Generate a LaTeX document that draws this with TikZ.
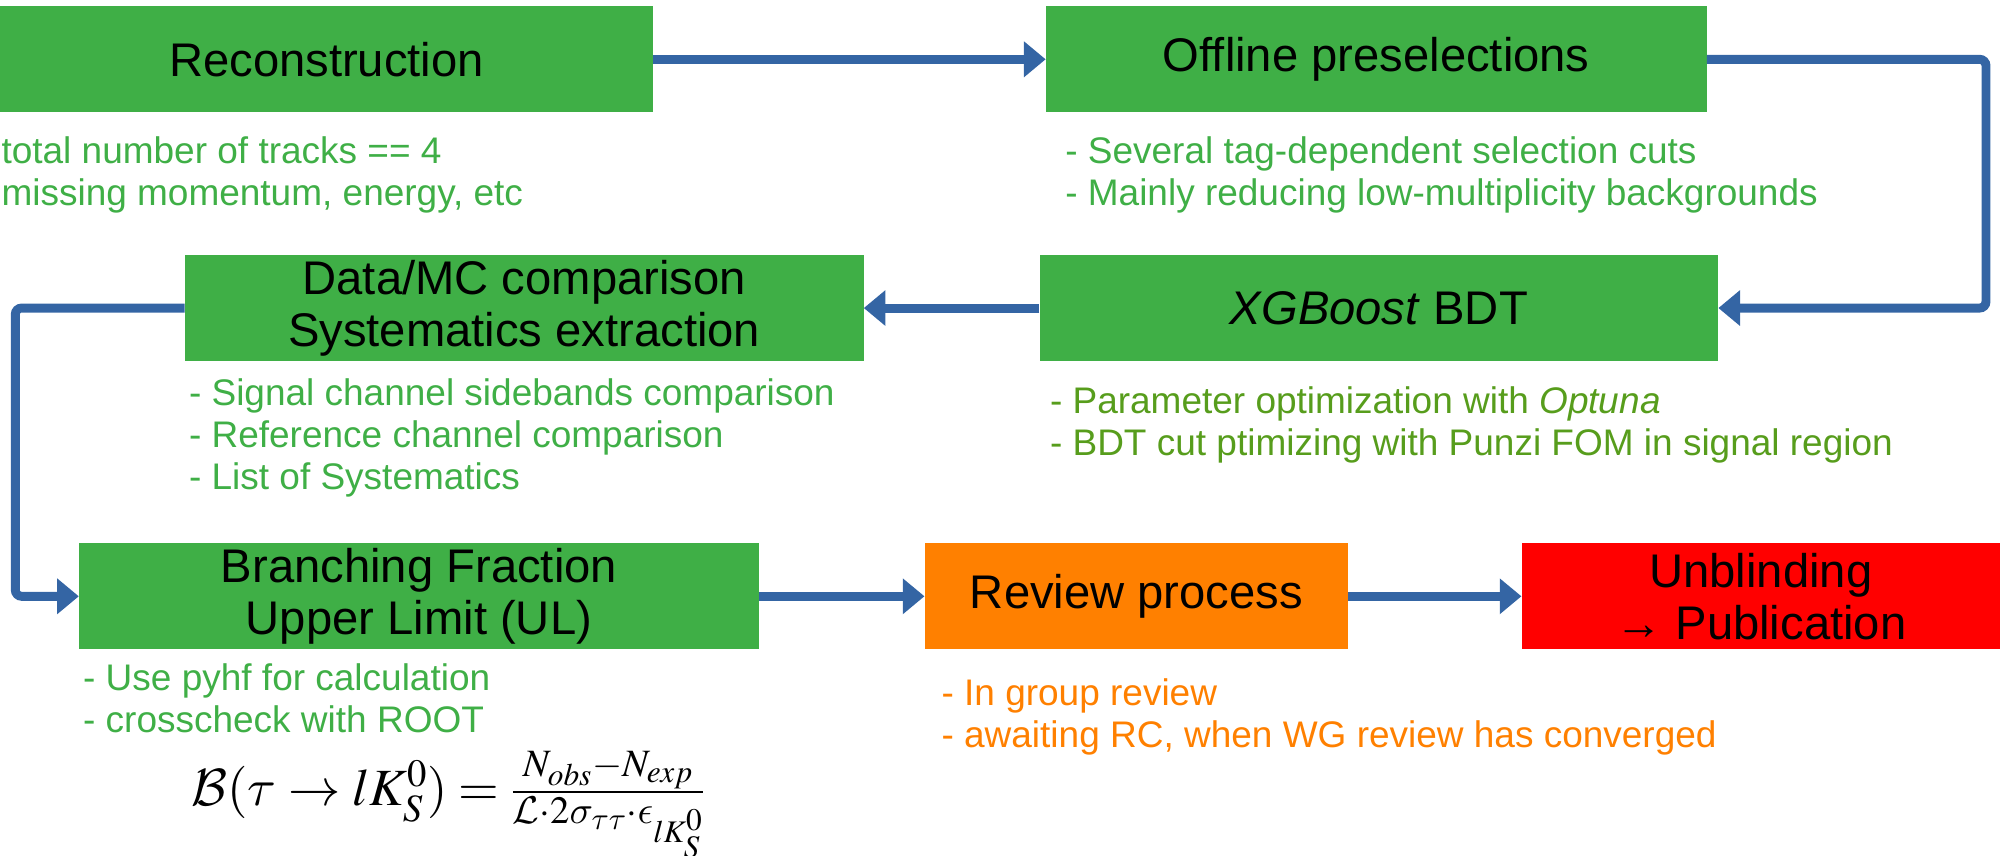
\documentclass[tikz,border=0pt]{standalone}
\usepackage{mathptmx}
\DeclareFontFamily{OMS}{mycmsy}{\skewchar\font'60}
\DeclareFontShape{OMS}{mycmsy}{m}{n}{<->cmsy10}{}
\DeclareFontFamily{OML}{mycmm}{\skewchar\font'177}
\DeclareFontShape{OML}{mycmm}{m}{it}{<->cmmi10}{}
\DeclareMathAlphabet{\mathcal}{OMS}{mycmsy}{m}{n}
\DeclareSymbolFont{cmletters}{OML}{mycmm}{m}{it}
\DeclareMathSymbol{\tau}{\mathord}{cmletters}{"1C}
\DeclareMathSymbol{\sigma}{\mathord}{cmletters}{"1B}
\DeclareMathSymbol{\epsilon}{\mathord}{cmletters}{"0F}
\usepackage{fontspec}
\setmainfont{Liberation Sans}
\usetikzlibrary{arrows.meta}
\definecolor{boxgreen}{HTML}{3FAF46}
\definecolor{notegreen}{HTML}{3FAF46}
\definecolor{olivegreen}{HTML}{579D1C}
\definecolor{boxorange}{HTML}{FF8000}
\definecolor{boxred}{HTML}{FF0000}
\definecolor{arrowblue}{HTML}{3465A4}
\begin{document}
\begin{tikzpicture}[x=1pt,y=-1pt,
  pbox/.style={rectangle, fill=boxgreen, inner sep=0pt, minimum height=83pt,
    align=center, text=black, font=\fontsize{37}{41}\selectfont},
  pnote/.style={anchor=base west, inner sep=0pt, align=left, text=notegreen,
    font=\fontsize{29}{33}\selectfont},
  flow/.style={draw=arrowblue, line width=7pt, rounded corners=5pt,
    -{Triangle[length=17pt,width=27pt]}}
]
\useasboundingbox (0,0) rectangle (1568,671);

% boxes
\node[pbox, minimum width=512pt] (rec) at (256,46.5) {Reconstruction};
\node[pbox, minimum width=518pt] (off) at (1079,46.5) {Offline preselections};
\node[pbox, minimum width=532pt] (dmc) at (411,241.5) {Data/MC comparison\\Systematics extraction};
\node[pbox, minimum width=532pt] (xgb) at (1081,241.5) {\textit{XGBoost} BDT};
\node[pbox, minimum width=533pt] (bf) at (328.5,467.5) {Branching Fraction\\Upper Limit (UL)};
\node[pbox, fill=boxorange, minimum width=332pt] (rev) at (891,467.5) {Review process};
\node[pbox, fill=boxred, minimum width=375pt] (unb) at (1380.5,467.5) {Unblinding\\→ Publication};

% notes (anchor = baseline of the last line)
\node[pnote] (recn) at (1,161) {total number of tracks == 4\\missing momentum, energy, etc};
\node[pnote] (offn) at (835,161) {- Several tag-dependent selection cuts\\- Mainly reducing low-multiplicity backgrounds};
\node[pnote] (dmcn) at (148,384) {- Signal channel sidebands comparison\\- Reference channel comparison\\- List of Systematics};
\node[pnote, text=olivegreen] (xgbn) at (823,357) {- Parameter optimization with \textit{Optuna}\\- BDT cut ptimizing with Punzi FOM in signal region};
\node[pnote] (bfn) at (65,574) {- Use pyhf for calculation\\- crosscheck with ROOT};
\node[pnote, text=boxorange] (revn) at (738,586) {- In group review\\- awaiting RC, when WG review has converged};

% formula
\node[anchor=west, inner sep=0pt, font=\fontsize{41}{46}\selectfont] (form) at (150,631)
  {$\mathcal{B}(\tau\rightarrow lK_S^0) = \frac{N_{obs}-N_{exp}}{\mathcal{L}\cdot 2\sigma_{\tau\tau}\cdot\epsilon_{lK_S^0}}$};

% connectors
\coordinate (c1) at (1557,46.5);
\coordinate (c2) at (1557,241.5);
\coordinate (c3) at (12,241.5);
\coordinate (c4) at (12,467.5);
\draw[flow] (rec.east) -- (off.west);
\draw[flow] (off.east) -- (c1) -- (c2) -- (xgb.east);
\draw[flow] (xgb.west) -- (dmc.east);
\draw[flow] (dmc.west) -- (c3) -- (c4) -- (bf.west);
\draw[flow] (bf.east) -- (rev.west);
\draw[flow] (rev.east) -- (unb.west);
\end{tikzpicture}
\end{document}
